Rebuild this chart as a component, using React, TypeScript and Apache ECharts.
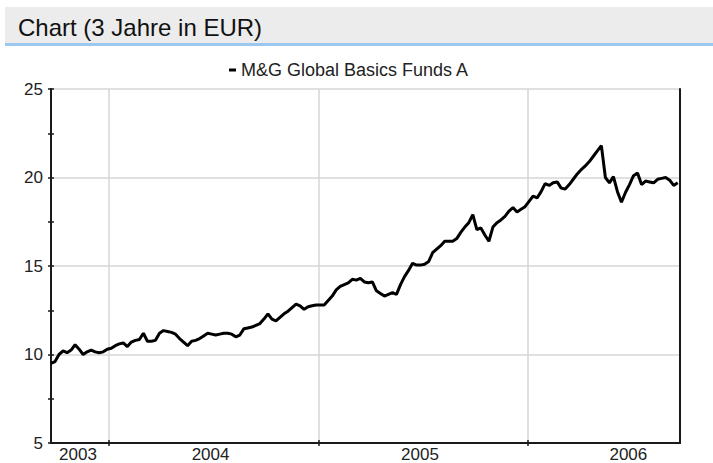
import React, { useEffect, useRef } from 'react';
import * as echarts from 'echarts';

const chartTitle = 'Chart (3 Jahre in EUR)';
const seriesName = 'M&G Global Basics Funds A';

// first weekly observation and axis range
const startDate = '2003-09-23';
const endDate = '2006-09-23';

// weekly NAV values (EUR)
const weeklyValues = [
  9.5, 9.6, 10.0, 10.2, 10.1, 10.25, 10.55, 10.3, 10.0, 10.15,
  10.25, 10.15, 10.1, 10.15, 10.3, 10.35, 10.5, 10.6, 10.65, 10.45,
  10.7, 10.8, 10.85, 11.2, 10.75, 10.75, 10.8, 11.2, 11.35, 11.3,
  11.25, 11.15, 10.9, 10.7, 10.5, 10.75, 10.8, 10.9, 11.05, 11.2,
  11.15, 11.1, 11.15, 11.2, 11.2, 11.15, 11.0, 11.1, 11.45, 11.5,
  11.55, 11.65, 11.75, 12.0, 12.3, 12.0, 11.9, 12.1, 12.3, 12.45,
  12.65, 12.85, 12.75, 12.55, 12.7, 12.75, 12.8, 12.8, 12.8, 13.05,
  13.3, 13.65, 13.85, 13.95, 14.05, 14.25, 14.2, 14.3, 14.1, 14.05,
  14.1, 13.6, 13.45, 13.3, 13.4, 13.5, 13.4, 13.95, 14.4, 14.75,
  15.15, 15.05, 15.05, 15.1, 15.25, 15.75, 15.95, 16.15, 16.4, 16.4,
  16.4, 16.55, 16.9, 17.2, 17.45, 17.9, 17.05, 17.15, 16.75, 16.4,
  17.2, 17.45, 17.6, 17.8, 18.1, 18.3, 18.05, 18.2, 18.35, 18.65,
  18.95, 18.85, 19.2, 19.65, 19.55, 19.7, 19.75, 19.4, 19.35, 19.6,
  19.9, 20.2, 20.45, 20.65, 20.9, 21.2, 21.5, 21.8, 20.0, 19.7,
  20.05, 19.2, 18.6, 19.15, 19.6, 20.1, 20.25, 19.6, 19.8, 19.75,
  19.7, 19.9, 19.95, 20.0, 19.85, 19.55, 19.7,
];

// year boundaries (ticks / grid lines) and year label positions
const yearBoundaries = ['2004-01-01', '2005-01-01', '2006-01-01'];
const yearLabelDates = ['2003-11-09', '2004-06-27', '2005-06-27', '2006-06-25'];

const yMin = 5;
const yMax = 25;
const yInterval = 5;

const DAY = 86400000;

export default function App() {
  const ref = useRef<HTMLDivElement>(null);

  useEffect(() => {
    document.body.style.margin = '0';
    if (!ref.current) return;
    const chart = echarts.init(ref.current, null, { renderer: 'svg' });

    const t0 = Date.parse(startDate);
    const t1 = Date.parse(endDate);
    const data = weeklyValues.map((v, i) => [t0 + i * 7 * DAY, v]);
    const boundaries = yearBoundaries.map((d) => Date.parse(d));
    const labelPos = yearLabelDates.map((d) => Date.parse(d));

    const font = 'Arial, "Liberation Sans", sans-serif';
    const axisColor = '#1a1a1a';
    const gridColor = '#d6d6d6';

    const baseX = {
      type: 'value',
      min: t0,
      max: t1,
      position: 'bottom',
    };
    const baseY = {
      type: 'value',
      min: yMin,
      max: yMax,
      interval: yInterval,
    };

    chart.setOption({
      animation: false,
      backgroundColor: '#ffffff',
      graphic: [
        { type: 'rect', shape: { x: 5, y: 7, width: 708, height: 36 }, style: { fill: '#ececec' }, silent: true },
        { type: 'rect', shape: { x: 5, y: 43, width: 708, height: 3 }, style: { fill: '#9cc8ef' }, silent: true },
        {
          type: 'text',
          x: 18,
          y: 27,
          style: { text: chartTitle, fontSize: 24, fontFamily: font, fill: '#111', verticalAlign: 'middle' },
          silent: true,
        },
      ],
      legend: {
        show: true,
        left: 224,
        top: 56,
        icon: 'rect',
        itemWidth: 7,
        itemHeight: 3,
        textStyle: { fontSize: 18, color: '#222', fontFamily: font },
        data: [seriesName],
      },
      grid: { left: 51, right: 33, top: 89, bottom: 20, outerBoundsMode: 'none' },
      xAxis: [
        {
          ...baseX,
          axisLine: { show: true, lineStyle: { color: axisColor, width: 2 } },
          axisTick: { show: true, customValues: boundaries, length: 3, lineStyle: { color: axisColor, width: 1.5 } },
          axisLabel: {
            show: true,
            customValues: labelPos,
            margin: 3,
            fontSize: 17,
            color: '#222',
            fontFamily: font,
            formatter: (v: number) => String(new Date(v).getUTCFullYear()),
          },
          splitLine: { show: true, lineStyle: { color: gridColor, width: 1.5 } },
        },
        {
          ...baseX,
          axisLine: { show: false },
          axisTick: { show: true, inside: true, customValues: boundaries, length: 3, lineStyle: { color: axisColor, width: 1.5 } },
          axisLabel: { show: false },
          splitLine: { show: false },
        },
      ],
      yAxis: [
        {
          ...baseY,
          position: 'left',
          axisLine: { show: true, lineStyle: { color: axisColor, width: 2 } },
          axisTick: { show: true, length: 3, lineStyle: { color: axisColor, width: 1.5 } },
          minorTick: { show: true, splitNumber: 2, length: 3, lineStyle: { color: axisColor, width: 1.5 } },
          axisLabel: { show: true, margin: 8, fontSize: 17, color: '#222', fontFamily: font },
          splitLine: { show: true, lineStyle: { color: gridColor, width: 1.5 } },
        },
        {
          ...baseY,
          position: 'left',
          axisLine: { show: false },
          axisTick: { show: true, inside: true, length: 3, lineStyle: { color: axisColor, width: 1.5 } },
          minorTick: { show: true, splitNumber: 2, length: 3, lineStyle: { color: axisColor, width: 1.5 } },
          axisLabel: { show: false },
          splitLine: { show: false },
        },
        {
          ...baseY,
          position: 'right',
          axisLine: { show: true, lineStyle: { color: axisColor, width: 2 } },
          axisTick: { show: false },
          axisLabel: { show: false },
          splitLine: { show: false },
        },
      ],
      series: [
        {
          name: seriesName,
          type: 'line',
          xAxisIndex: 0,
          yAxisIndex: 0,
          data,
          showSymbol: false,
          symbol: 'none',
          lineStyle: { color: '#000', width: 3 },
          itemStyle: { color: '#000' },
          z: 5,
        },
      ],
    });

    return () => chart.dispose();
  }, []);

  return <div ref={ref} style={{ width: 713, height: 463 }} />;
}
